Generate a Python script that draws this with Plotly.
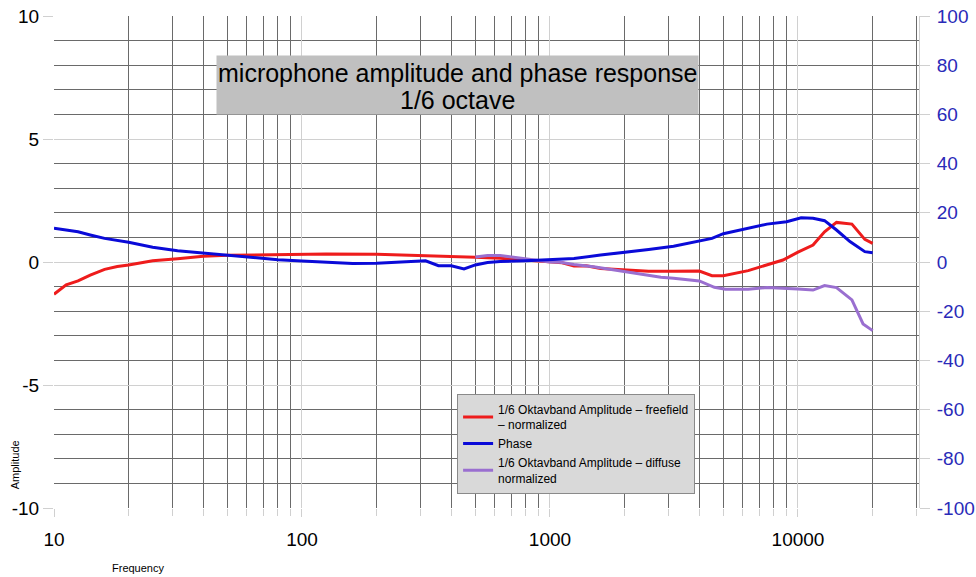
import plotly.graph_objects as go

# ---- data ----
freq_ff = [10, 11.2, 12.5, 14, 16, 18, 20, 22.4, 25, 31.5, 35.5, 40, 50, 63, 80, 100, 125,
           200, 315, 500, 630, 800, 1000, 1120, 1250, 1400, 1600, 2000, 2500, 3150, 4000,
           4500, 5000, 6300, 7500, 8700, 10000, 11500, 12800, 14300, 16500, 18600, 20000]
amp_ff = [-1.31, -0.93, -0.77, -0.53, -0.30, -0.18, -0.12, -0.03, 0.05, 0.13, 0.19, 0.23, 0.27,
          0.29, 0.31, 0.32, 0.33, 0.31, 0.26, 0.19, 0.15, 0.08, 0.0, -0.03, -0.16, -0.15, -0.26,
          -0.33, -0.38, -0.38, -0.37, -0.56, -0.56, -0.35, -0.12, 0.08, 0.40, 0.69, 1.23, 1.61,
          1.54, 0.92, 0.76]

freq_phase = [10, 11.2, 12.5, 14, 16, 20, 25, 31.5, 40, 50, 63, 80, 100, 125, 160, 200, 250,
              315, 355, 400, 450, 500, 560, 630, 800, 1000, 1250, 1600, 2000, 2500, 3150, 4000,
              4500, 5000, 6300, 7500, 9000, 10300, 11500, 12800, 14300, 16200, 18600, 20000]
phase = [13.7, 12.9, 12.3, 11.0, 9.6, 8.0, 6.0, 4.6, 3.7, 2.8, 1.9, 0.9, 0.4, 0.0, -0.6, -0.5,
         0.0, 0.5, -1.5, -1.5, -2.8, -1.2, -0.2, 0.2, 0.5, 0.8, 1.4, 2.8, 3.8, 5.1, 6.4, 8.7,
         9.6, 11.5, 13.7, 15.4, 16.4, 18.0, 17.8, 16.8, 13.0, 8.3, 4.2, 3.8]

freq_diff = [500, 560, 630, 710, 800, 900, 1000, 1100, 1250, 1500, 2000, 2800, 3150, 3550, 4000,
             4600, 5100, 6300, 7500, 10000, 11500, 12800, 14300, 16500, 18300, 20000]
amp_diff = [0.20, 0.26, 0.26, 0.19, 0.12, 0.05, 0.0, -0.01, -0.10, -0.19, -0.39, -0.62, -0.66,
            -0.70, -0.77, -1.03, -1.11, -1.11, -1.04, -1.10, -1.14, -0.96, -1.04, -1.54, -2.52,
            -2.79]

x_ticks = [10, 100, 1000, 10000]
x_tick_labels = ["10", "100", "1000", "10000"]
x_minor_ticks = [m * 10 ** d for d in range(1, 5) for m in range(2, 10) if m * 10 ** d <= 30000]
y_ticks = [-10, -5, 0, 5, 10]
y_tick_labels = ["-10", "-5", "0", "5", "10"]
y2_ticks = [-100, -80, -60, -40, -20, 0, 20, 40, 60, 80, 100]
y2_tick_labels = ["-100", "-80", "-60", "-40", "-20", "0", "20", "40", "60", "80", "100"]

FONT = "Liberation Sans, Arial, sans-serif"
LIGHT = "#d0d0d0"
DARK = "#6a6a6a"

fig = go.Figure()
fig.add_trace(go.Scatter(x=freq_ff, y=amp_ff, mode="lines",
                         name="1/6 Oktavband Amplitude – freefield<br>– normalized",
                         line=dict(color="#ee1c1c", width=3)))
fig.add_trace(go.Scatter(x=freq_phase, y=phase, mode="lines", name="Phase", yaxis="y2",
                         line=dict(color="#0a0ad8", width=3)))
fig.add_trace(go.Scatter(x=freq_diff, y=amp_diff, mode="lines",
                         name="1/6 Oktavband Amplitude – diffuse<br>normalized",
                         line=dict(color="#9a6fd0", width=3)))

fig.update_layout(
    width=976, height=577,
    margin=dict(l=54, r=57, t=16, b=69, autoexpand=False),
    paper_bgcolor="white", plot_bgcolor="white",
    font=dict(family=FONT, color="black"),
    xaxis=dict(type="log", range=[1, 4.488], tickmode="array", tickvals=x_ticks,
               ticktext=x_tick_labels, showgrid=True, gridcolor=LIGHT, gridwidth=1,
               ticks="outside", ticklen=8, tickcolor=LIGHT, tickfont=dict(size=19),
               ticklabelstandoff=6, showline=False, zeroline=False, automargin=False,
               ticklabeloverflow="allow",
               minor=dict(tickmode="array", tickvals=x_minor_ticks, showgrid=True,
                          gridcolor=DARK, gridwidth=1, ticks="outside", ticklen=7,
                          tickcolor=LIGHT)),
    yaxis=dict(range=[-10, 10], tickmode="array", tickvals=y_ticks, ticktext=y_tick_labels,
               showgrid=True, gridcolor=LIGHT, gridwidth=1, ticks="outside", ticklen=10,
               tickcolor=LIGHT, tickfont=dict(size=19), zeroline=False, showline=False,
               automargin=False, ticklabeloverflow="allow",
               minor=dict(dtick=1, showgrid=True, gridcolor=DARK, gridwidth=1)),
    yaxis2=dict(range=[-100, 100], overlaying="y", side="right", tickmode="array",
                tickvals=y2_ticks, ticktext=y2_tick_labels, showgrid=False, zeroline=False,
                ticks="outside", ticklen=10, tickcolor=LIGHT, showline=True, linecolor=LIGHT,
                automargin=False, ticklabelstandoff=3, ticklabeloverflow="allow",
                tickfont=dict(size=19, color="#2a2ab8")),
    legend=dict(x=0.466, y=0.232, xanchor="left", yanchor="top", bgcolor="#d9d9d9",
                bordercolor="#8a8a8a", borderwidth=1, font=dict(size=12, family=FONT),
                itemwidth=30, tracegroupgap=2),
    showlegend=True,
)

# title box (background) and its two text lines
fig.add_annotation(xref="paper", yref="paper", x=0.4665, y=0.8598, xanchor="center",
                   yanchor="middle", showarrow=False, text=" ", bgcolor="#c0c0c0",
                   width=479, height=56)
fig.add_annotation(xref="paper", yref="paper", x=0.4665, y=0.884, xanchor="center",
                   yanchor="middle", showarrow=False,
                   text="microphone amplitude and phase response",
                   font=dict(size=25, family=FONT, color="black"))
fig.add_annotation(xref="paper", yref="paper", x=0.4665, y=0.829, xanchor="center",
                   yanchor="middle", showarrow=False, text="1/6 octave",
                   font=dict(size=25, family=FONT, color="black"))

fig.add_annotation(xref="paper", yref="paper", x=-0.045, y=0.087, xanchor="center",
                   yanchor="middle", showarrow=False, text="Amplitude", textangle=-90,
                   font=dict(size=11, family=FONT, color="black"))
fig.add_annotation(xref="paper", yref="paper", x=0.097, y=-0.122, xanchor="center",
                   yanchor="middle", showarrow=False, text="Frequency",
                   font=dict(size=11, family=FONT, color="black"))

# remove the default page margin so the 976x577 figure fills the window exactly
fig.write_html("out.html", config={"displayModeBar": False},
               post_script="document.body.style.margin='0';")
